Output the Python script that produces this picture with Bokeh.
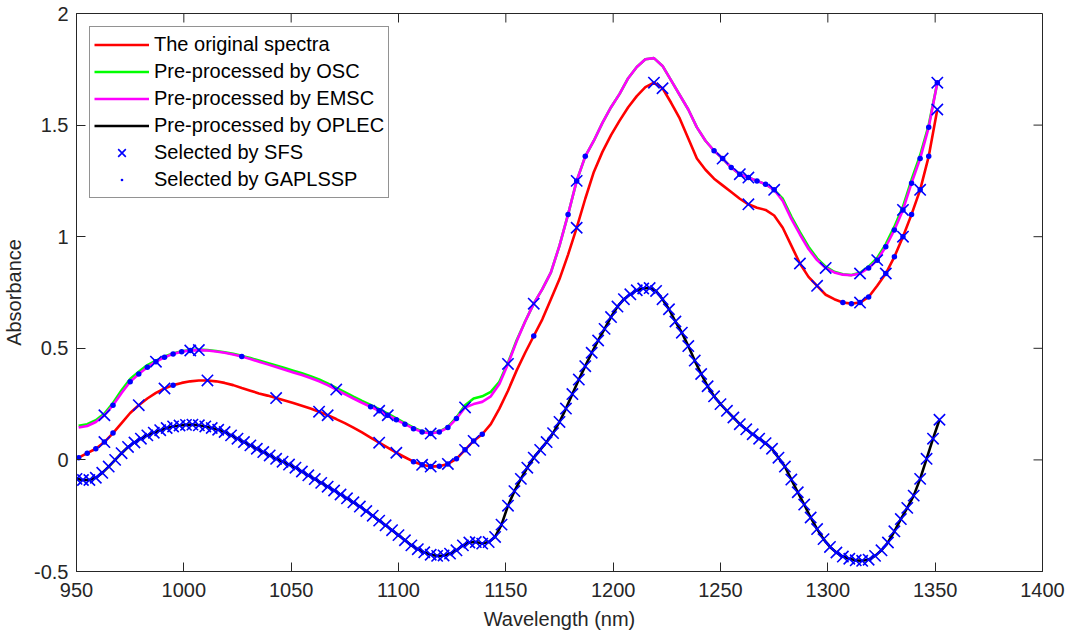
from math import pi
from bokeh.plotting import figure
from bokeh.models import (FixedTicker, CustomJSTickFormatter, Legend,
                          LegendItem, Range1d, ColumnDataSource)
from bokeh.embed import file_html
from bokeh.resources import INLINE

# ---------------- data ----------------
wavelength = list(range(951, 1352, 4))  # 101 wavelengths (nm)

original = [0.01, 0.03, 0.05, 0.08, 0.12, 0.165, 0.21, 0.245, 0.275, 0.30,
            0.32, 0.335, 0.345, 0.352, 0.356, 0.356, 0.352, 0.345, 0.335, 0.322,
            0.31, 0.298, 0.288, 0.277, 0.266, 0.255, 0.243, 0.23, 0.216, 0.20,
            0.183, 0.165, 0.145, 0.123, 0.10, 0.077, 0.055, 0.032, 0.012, -0.008,
            -0.022, -0.03, -0.028, -0.018, 0.005, 0.045, 0.085, 0.115, 0.16, 0.23,
            0.31, 0.40, 0.48, 0.555, 0.63, 0.72, 0.81, 0.92, 1.04, 1.17,
            1.29, 1.38, 1.455, 1.52, 1.58, 1.63, 1.67, 1.69, 1.665, 1.60,
            1.53, 1.44, 1.35, 1.30, 1.26, 1.23, 1.20, 1.17, 1.145, 1.13,
            1.12, 1.095, 1.04, 0.96, 0.88, 0.82, 0.78, 0.74, 0.72, 0.705,
            0.70, 0.705, 0.73, 0.78, 0.835, 0.91, 1.00, 1.10, 1.21, 1.36,
            1.57]

osc = [0.153, 0.16, 0.178, 0.208, 0.255, 0.312, 0.362, 0.395, 0.425, 0.445,
       0.463, 0.477, 0.487, 0.492, 0.494, 0.492, 0.488, 0.482, 0.475, 0.466,
       0.456, 0.445, 0.434, 0.423, 0.412, 0.40, 0.388, 0.375, 0.36, 0.343,
       0.323, 0.303, 0.283, 0.264, 0.246, 0.227, 0.207, 0.186, 0.165, 0.144,
       0.128, 0.12, 0.127, 0.148, 0.19, 0.245, 0.275, 0.285, 0.305, 0.35,
       0.435, 0.535, 0.62, 0.70, 0.765, 0.84, 0.96, 1.10, 1.25, 1.36,
       1.43, 1.51, 1.58, 1.64, 1.71, 1.76, 1.795, 1.80, 1.765, 1.70,
       1.635, 1.57, 1.49, 1.43, 1.385, 1.35, 1.31, 1.28, 1.265, 1.25,
       1.235, 1.21, 1.17, 1.09, 1.02, 0.955, 0.903, 0.866, 0.843, 0.832,
       0.828, 0.838, 0.866, 0.905, 0.967, 1.045, 1.135, 1.255, 1.365, 1.50,
       1.69]

emsc = [0.145, 0.152, 0.17, 0.20, 0.245, 0.30, 0.35, 0.385, 0.415, 0.44,
        0.46, 0.475, 0.485, 0.49, 0.492, 0.49, 0.486, 0.48, 0.472, 0.463,
        0.452, 0.44, 0.428, 0.416, 0.404, 0.392, 0.38, 0.367, 0.352, 0.335,
        0.315, 0.295, 0.275, 0.256, 0.238, 0.22, 0.20, 0.18, 0.16, 0.14,
        0.125, 0.118, 0.125, 0.145, 0.185, 0.235, 0.25, 0.26, 0.285, 0.34,
        0.43, 0.53, 0.62, 0.70, 0.765, 0.84, 0.96, 1.10, 1.25, 1.36,
        1.43, 1.51, 1.58, 1.64, 1.71, 1.76, 1.795, 1.80, 1.765, 1.70,
        1.635, 1.57, 1.49, 1.43, 1.385, 1.35, 1.31, 1.28, 1.265, 1.25,
        1.235, 1.21, 1.16, 1.08, 1.01, 0.945, 0.895, 0.86, 0.84, 0.83,
        0.827, 0.835, 0.86, 0.895, 0.955, 1.03, 1.12, 1.24, 1.35, 1.49,
        1.69]

# OPLEC spectrum, read on a finer 3 nm grid (every point selected by SFS)
oplec_wavelength = list(range(950, 1353, 3))  # 135 wavelengths (nm)
oplec = [-0.085, -0.09, -0.09, -0.08, -0.058, -0.03, 0.0, 0.03, 0.058, 0.078,
         0.095, 0.11, 0.122, 0.133, 0.143, 0.15, 0.154, 0.157, 0.158, 0.155,
         0.15, 0.143, 0.135, 0.125, 0.11, 0.095, 0.08, 0.065, 0.05, 0.035,
         0.02, 0.005, -0.008, -0.021, -0.035, -0.052, -0.069, -0.086, -0.103, -0.12,
         -0.137, -0.155, -0.172, -0.19, -0.209, -0.229, -0.25, -0.272, -0.293, -0.315,
         -0.337, -0.36, -0.383, -0.40, -0.414, -0.425, -0.43, -0.428, -0.42, -0.405,
         -0.383, -0.37, -0.368, -0.375, -0.368, -0.345, -0.29, -0.205, -0.14, -0.085,
         -0.035, 0.01, 0.045, 0.08, 0.12, 0.17, 0.23, 0.295, 0.36, 0.42,
         0.48, 0.535, 0.587, 0.64, 0.687, 0.72, 0.742, 0.76, 0.768, 0.77,
         0.757, 0.72, 0.675, 0.62, 0.57, 0.51, 0.445, 0.385, 0.33, 0.285,
         0.25, 0.22, 0.19, 0.16, 0.137, 0.115, 0.095, 0.075, 0.05, 0.01,
         -0.03, -0.088, -0.145, -0.2, -0.258, -0.31, -0.355, -0.39, -0.415, -0.433,
         -0.443, -0.45, -0.452, -0.447, -0.43, -0.405, -0.37, -0.32, -0.265, -0.215,
         -0.16, -0.085, 0.005, 0.095, 0.18]

# wavelengths selected by SFS (shown on each curve)
sfs_on_original = [963, 979, 991, 1011, 1043, 1063, 1067, 1091, 1099, 1111, 1115,
                   1123, 1131, 1135, 1183, 1219, 1223, 1263, 1287, 1295, 1315,
                   1327, 1335, 1343, 1351]
sfs_on_emsc = [963, 987, 1003, 1007, 1071, 1091, 1095, 1115, 1131, 1151, 1163,
               1183, 1251, 1259, 1263, 1275, 1299, 1315, 1323, 1335, 1351]
sfs_on_oplec = oplec_wavelength

# wavelengths selected by GAPLSSP
ga_on_original = [951, 955, 959, 963, 967, 995, 1107, 1111, 1115, 1119, 1123,
                  1127, 1131, 1135, 1139, 1163, 1307, 1311, 1315, 1319, 1327,
                  1331, 1335, 1339, 1343, 1347]
ga_on_emsc = [967, 975, 979, 983, 987, 991, 995, 999, 1003, 1027, 1087, 1091,
              1095, 1099, 1103, 1107, 1111, 1115, 1119, 1123, 1127, 1179, 1183,
              1187, 1247, 1251, 1255, 1259, 1263, 1267, 1271, 1275, 1319, 1323,
              1327, 1331, 1335, 1339, 1343, 1347, 1351]

x_ticks = [950, 1000, 1050, 1100, 1150, 1200, 1250, 1300, 1350, 1400]
y_ticks = [-0.5, 0, 0.5, 1, 1.5, 2]

labels = ["The original spectra", "Pre-processed by OSC", "Pre-processed by EMSC",
          "Pre-processed by OPLEC", "Selected by SFS", "Selected by GAPLSSP"]

# ---------------- figure ----------------
FONT = "Liberation Sans"
AX = "#262626"
FS = "20px"

p = figure(width=1070, height=632, x_range=Range1d(950, 1400), y_range=Range1d(-0.5, 2),
           output_backend="svg", toolbar_location=None,
           min_border_left=76, min_border_right=28, min_border_top=13, min_border_bottom=61)
p.grid.visible = False
p.outline_line_color = AX
p.outline_line_width = 1
p.background_fill_color = "white"
p.border_fill_color = "white"

for ax, ticks in ((p.xaxis[0], x_ticks), (p.yaxis[0], y_ticks)):
    ax.ticker = FixedTicker(ticks=ticks)
    ax.axis_line_color = AX
    ax.major_tick_line_color = AX
    ax.major_tick_in = 9
    ax.major_tick_out = 0
    ax.minor_tick_line_color = None
    ax.major_label_text_font = FONT
    ax.major_label_text_color = AX
    ax.major_label_text_font_size = FS
    ax.axis_label_text_font = FONT
    ax.axis_label_text_font_style = "normal"
    ax.axis_label_text_color = AX
    ax.axis_label_text_font_size = FS

xa = p.xaxis[0]
ya = p.yaxis[0]
xa.axis_label = "Wavelength (nm)"
ya.axis_label = "Absorbance"
xa.major_label_standoff = 11
ya.major_label_standoff = 8
xa.axis_label_standoff = 8
ya.axis_label_standoff = 6
ya.formatter = CustomJSTickFormatter(code="return tick.toString();")

# inward ticks on the top and right edges of the box (MATLAB style)
x_end = p.x_range.end
y_end = p.y_range.end
p.ray(x=x_ticks, y=[y_end] * len(x_ticks), length=9, angle=-pi / 2,
      length_units="screen", line_color=AX, line_width=1)
p.ray(x=[x_end] * len(y_ticks), y=y_ticks, length=9, angle=pi,
      length_units="screen", line_color=AX, line_width=1)

# ---------------- lines ----------------
src = ColumnDataSource(dict(w=wavelength, orig=original, osc=osc, emsc=emsc))
src_op = ColumnDataSource(dict(w=oplec_wavelength, oplec=oplec))
r_orig = p.line("w", "orig", source=src, line_color="#FF0000", line_width=2.6)
r_osc = p.line("w", "osc", source=src, line_color="#00FF00", line_width=2.6)
r_emsc = p.line("w", "emsc", source=src, line_color="#FF00FF", line_width=2.6)
r_oplec = p.line("w", "oplec", source=src_op, line_color="#000000", line_width=2.6)

orig_map = dict(zip(wavelength, original))
emsc_map = dict(zip(wavelength, emsc))
oplec_map = dict(zip(oplec_wavelength, oplec))

sfs_x = sfs_on_original + sfs_on_emsc + list(sfs_on_oplec)
sfs_y = ([orig_map[w] for w in sfs_on_original] + [emsc_map[w] for w in sfs_on_emsc]
         + [oplec_map[w] for w in sfs_on_oplec])
ga_x = ga_on_original + ga_on_emsc
ga_y = [orig_map[w] for w in ga_on_original] + [emsc_map[w] for w in ga_on_emsc]

r_sfs = p.scatter(sfs_x, sfs_y, marker="x", size=16, line_color="#0000FF", line_width=1.6)
r_ga = p.scatter(ga_x, ga_y, marker="dot", size=22, fill_color="#0000FF",
                 line_color="#0000FF", line_width=1)

# ---------------- legend ----------------
items = [LegendItem(label=labels[i], renderers=[r])
         for i, r in enumerate([r_orig, r_osc, r_emsc, r_oplec, r_sfs, r_ga])]
legend = Legend(items=items, location="top_left")
legend.margin = 13
legend.padding = 4
legend.spacing = 0
legend.label_height = 27
legend.glyph_height = 27
legend.glyph_width = 55
legend.label_standoff = 5
legend.label_text_font = FONT
legend.label_text_font_size = FS
legend.label_text_color = "#000000"
legend.border_line_color = AX
legend.border_line_width = 1
legend.background_fill_color = "white"
legend.background_fill_alpha = 1
p.add_layout(legend)

open("out.html", "w").write(file_html(p, INLINE))
